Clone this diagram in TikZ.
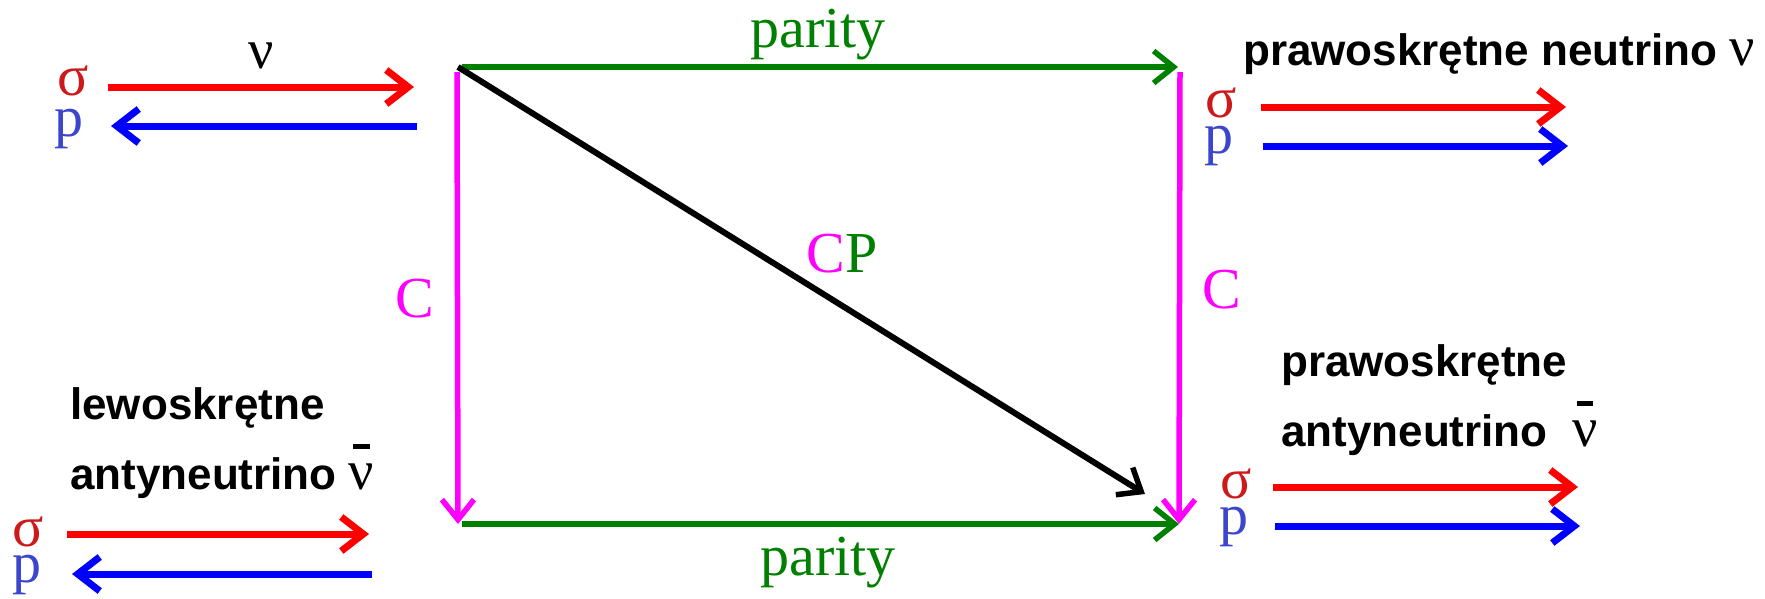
\documentclass[tikz,border=0pt]{standalone}
\usepackage{fontspec}
\setmainfont{Liberation Serif}
\newfontfamily\arialfont{Liberation Sans}
\usetikzlibrary{arrows.meta}
\definecolor{dkgreen}{RGB}{0,128,0}
\definecolor{sigred}{RGB}{205,25,25}
\definecolor{pblue}{RGB}{60,70,205}
\definecolor{mag}{RGB}{255,0,255}
\newcommand{\nubar}{\ooalign{ν\cr\hidewidth\raisebox{0.72em}{\rule{0.29em}{0.075em}}\hidewidth\cr}}
\newcommand{\nufnt}{\rmfamily\mdseries\fontsize{56}{58}\selectfont}
\tikzset{
  serif/.style={inner sep=0pt, font=\fontsize{58}{60}\selectfont},
  bold/.style={inner sep=0pt, anchor=base west, font=\arialfont\bfseries\fontsize{44}{48}\selectfont},
  smallarrow/.style={line width=7pt, -{Straight Barb[length=22pt,width=34pt,line width=7pt]}},
  bigarrow/.style={line width=5.5pt, -{Straight Barb[length=20pt,width=32pt,line width=5.5pt]}},
}
\begin{document}
\begin{tikzpicture}[x=1pt,y=-1pt]
\useasboundingbox[fill=white] (0,0) rectangle (1765,598);

% square corners
\coordinate (TL) at (458,67);
\coordinate (TR) at (1178,67);
\coordinate (BL) at (458,524);
\coordinate (BR) at (1179,524);
\coordinate (TLg) at (462,67);
\coordinate (BLg) at (462,524);
\coordinate (TRm) at (1180,72);
\coordinate (TLm) at (457,72);
\coordinate (Dend) at (1145,494);

\draw[bigarrow, mag] (TLm) -- (BL);
\draw[bigarrow, mag] (TRm) -- (BR);
\draw[bigarrow, dkgreen] (TLg) -- (TR);
\draw[bigarrow, dkgreen] (BLg) -- (BR);
\draw[bigarrow, black, line width=6pt] (TL) -- (Dend);

\node[serif, dkgreen, anchor=base] (par1) at (818,47) {parity};
\node[serif, dkgreen, anchor=base] (par2) at (828,575) {parity};
\node[serif, mag, anchor=base] (c1) at (415,317) {C};
\node[serif, mag, anchor=base] (c2) at (1222,308) {C};
\node[serif, anchor=base] (cp) at (842,272) {\textcolor{mag}{C}\textcolor{dkgreen}{P}};

% top-left group
\node[inner sep=0pt, font=\nufnt, anchor=base] (nu1) at (261,68) {ν};
\node[serif, sigred] (s1) at (73,81) {σ};
\node[serif, pblue] (p1) at (69,129) {p};
\coordinate (r1a) at (108,87);
\coordinate (r1b) at (414,87);
\coordinate (b1a) at (417,126);
\coordinate (b1b) at (111,126);
\draw[smallarrow, red] (r1a) -- (r1b);
\draw[smallarrow, blue] (b1a) -- (b1b);

% top-right group
\node[bold] (t1) at (1243,65) {prawoskrętne neutrino {\nufnt ν}};
\node[serif, sigred] (s2) at (1221,103) {σ};
\node[serif, pblue] (p2) at (1219,146) {p};
\coordinate (r2a) at (1261,107);
\coordinate (r2b) at (1566,107);
\coordinate (b2a) at (1263,146);
\coordinate (b2b) at (1568,146);
\draw[smallarrow, red] (r2a) -- (r2b);
\draw[smallarrow, blue] (b2a) -- (b2b);

% bottom-right group
\node[bold] (t2) at (1281,376) {prawoskrętne};
\node[bold] (t3) at (1281,446) {antyneutrino\ \ {\nufnt\nubar}};
\node[serif, sigred] (s3) at (1236,484) {σ};
\node[serif, pblue] (p3) at (1234,527) {p};
\coordinate (r3a) at (1273,487);
\coordinate (r3b) at (1578,487);
\coordinate (b3a) at (1275,526);
\coordinate (b3b) at (1580,526);
\draw[smallarrow, red] (r3a) -- (r3b);
\draw[smallarrow, blue] (b3a) -- (b3b);

% bottom-left group
\node[bold] (t4) at (70,419) {lewoskrętne};
\node[bold] (t5) at (70,489) {antyneutrino {\nufnt\nubar}};
\node[serif, sigred] (s4) at (28,532) {σ};
\node[serif, pblue] (p4) at (27,575) {p};
\coordinate (r4a) at (67,534);
\coordinate (r4b) at (369,534);
\coordinate (b4a) at (372,574);
\coordinate (b4b) at (72,574);
\draw[smallarrow, red] (r4a) -- (r4b);
\draw[smallarrow, blue] (b4a) -- (b4b);
\end{tikzpicture}
\end{document}
